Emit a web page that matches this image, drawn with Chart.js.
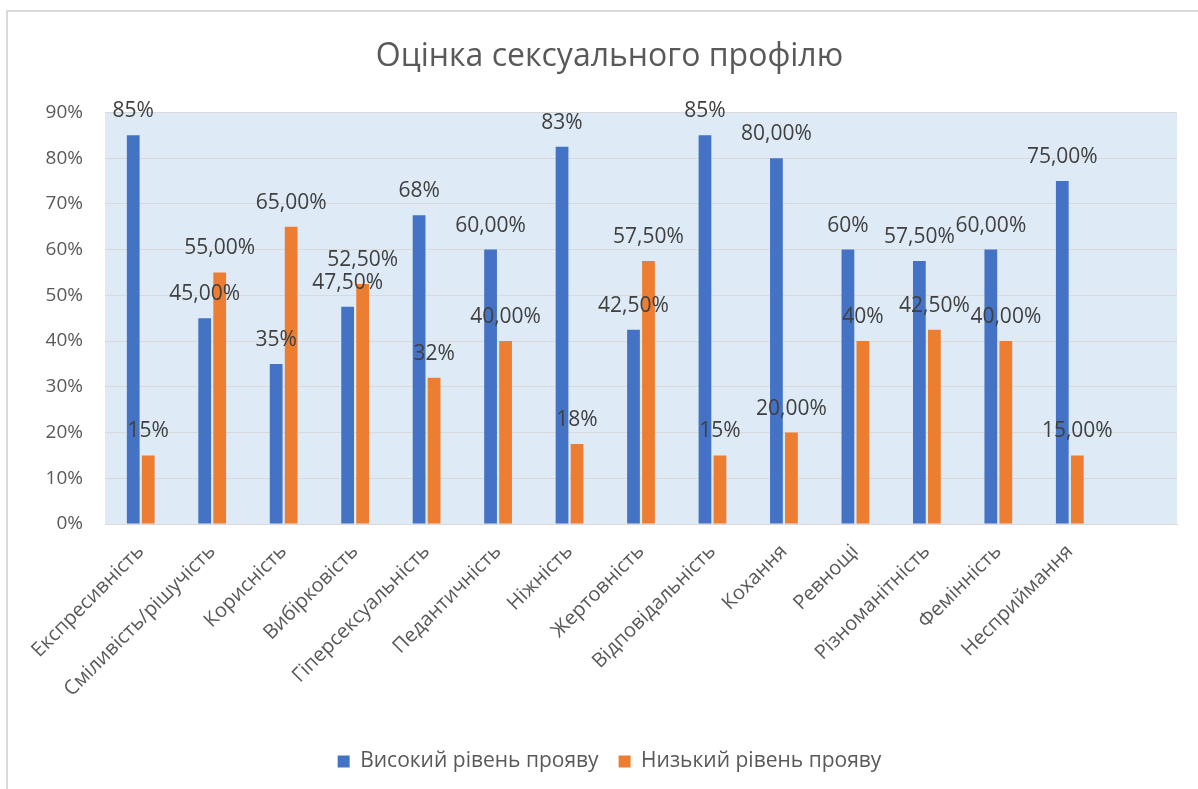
<!DOCTYPE html>
<html>
<head>
<meta charset="utf-8">
<script src="https://cdn.jsdelivr.net/npm/chart.js@4"></script>
<style>
  html, body { margin: 0; padding: 0; background: #ffffff; }
  #wrap { width: 1198px; height: 789px; }
</style>
</head>
<body>
<div id="wrap"><canvas id="profileChart"></canvas></div>
<script>
"use strict";

// the last slot is left empty, like in the original
const categories = [
  "Експресивність", "Сміливість/рішучість", "Корисність", "Вибірковість",
  "Гіперсексуальність", "Педантичність", "Ніжність", "Жертовність",
  "Відповідальність", "Кохання", "Ревнощі", "Різноманітність",
  "Фемінність", "Несприймання", ""
];
const highValues = [85, 45, 35, 47.5, 67.5, 60, 82.5, 42.5, 85, 80, 60, 57.5, 60, 75];
const lowValues = [15, 55, 65, 52.5, 32, 40, 17.5, 57.5, 15, 20, 40, 42.5, 40, 15];
const highLabels = ["85%", "45,00%", "35%", "47,50%", "68%", "60,00%", "83%", "42,50%", "85%", "80,00%", "60%", "57,50%", "60,00%", "75,00%"];
const lowLabels = ["15%", "55,00%", "65,00%", "52,50%", "32%", "40,00%", "18%", "57,50%", "15%", "20,00%", "40%", "42,50%", "40,00%", "15,00%"];
const yTicks = [0, 10, 20, 30, 40, 50, 60, 70, 80, 90];

const FONT = "'Open Sans', 'Noto Sans', sans-serif";
const TEXT = "#595959";

const chartDecor = {
  id: "chartDecor",
  beforeDraw(chart) {
    const ctx = chart.ctx;
    const a = chart.chartArea;
    ctx.save();
    ctx.fillStyle = "#deebf7";
    ctx.fillRect(a.left, a.top, a.right - a.left, a.bottom - a.top);
    ctx.strokeStyle = "#d9d9d9";
    ctx.lineWidth = 2;
    ctx.beginPath();
    ctx.moveTo(7, chart.height);
    ctx.lineTo(7, 11);
    ctx.lineTo(chart.width, 11);
    ctx.stroke();
    ctx.restore();
  },
  afterDatasetsDraw(chart) {
    const ctx = chart.ctx;
    const labelSets = [highLabels, lowLabels];
    ctx.save();
    ctx.font = "21px " + FONT;
    ctx.fillStyle = "#404040";
    ctx.textAlign = "center";
    ctx.textBaseline = "middle";
    chart.data.datasets.forEach((ds, i) => {
      const meta = chart.getDatasetMeta(i);
      meta.data.forEach((bar, j) => {
        ctx.fillText(labelSets[i][j], bar.x, bar.y - 24);
      });
    });
    ctx.restore();
  }
};

const profileData = {
  labels: categories,
  datasets: [
    {
      label: "Високий рівень прояву",
      backgroundColor: "#4472c4",
      data: highValues,
      categoryPercentage: 0.42,
      barPercentage: 0.85,
    },
    {
      label: "Низький рівень прояву",
      backgroundColor: "#ed7d31",
      data: lowValues,
      categoryPercentage: 0.42,
      barPercentage: 0.85,
    },
  ],
};

const profileConfig = {
  type: "bar",
  data: profileData,
  plugins: [chartDecor],
  options: {
    responsive: true,
    maintainAspectRatio: false,
    animation: false,
    layout: {
      padding: { left: 42, right: 21, top: 0, bottom: 7 },
    },
    scales: {
      x: {
        grid: { display: false },
        border: { color: "#d9d9d9" },
        ticks: {
          color: TEXT,
          font: { family: FONT, size: 20 },
          minRotation: 45,
          maxRotation: 45,
          autoSkip: false,
          padding: 8,
        },
        afterFit(scale) {
          scale.height = 207;
        },
      },
      y: {
        min: 0,
        max: 90,
        afterBuildTicks(scale) {
          scale.ticks = yTicks.map((v) => ({ value: v }));
        },
        grid: { color: "#d9d9d9", drawTicks: false },
        border: { display: false },
        ticks: {
          color: TEXT,
          font: { family: FONT, size: 19 },
          padding: 22,
          callback: (v) => v + "%",
        },
        afterFit(scale) {
          scale.width = 63;
        },
      },
    },
    plugins: {
      title: {
        display: true,
        text: "Оцінка сексуального профілю",
        color: TEXT,
        font: { family: FONT, size: 32, weight: "normal" },
        padding: { top: 38, bottom: 36 },
      },
      legend: {
        position: "bottom",
        labels: {
          color: TEXT,
          font: { family: FONT, size: 21 },
          boxWidth: 12,
          boxHeight: 12,
          padding: 20,
        },
      },
      tooltip: { enabled: false },
    },
  },
};

const profileChart = new Chart(document.getElementById("profileChart"), profileConfig);
</script>
</body>
</html>
